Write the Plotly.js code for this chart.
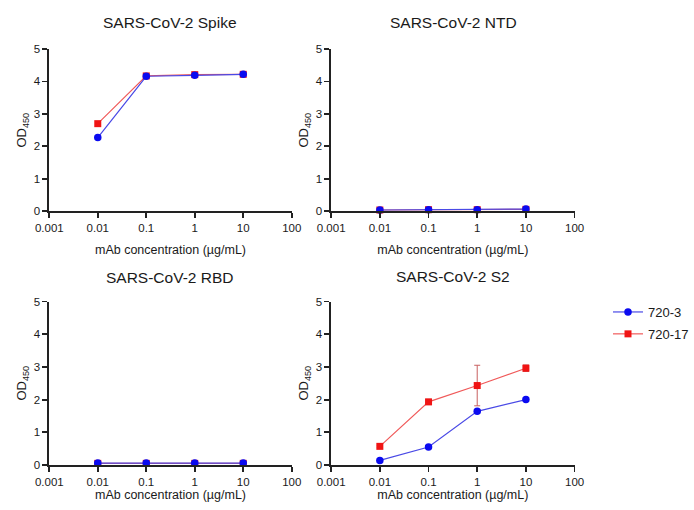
<!DOCTYPE html>
<html>
<head>
<meta charset="utf-8">
<script src="https://cdn.plot.ly/plotly-3.0.1.min.js"></script>
<style>html,body{margin:0;padding:0;background:#fff;}#chart{width:694px;height:510px;}</style>
</head>
<body>
<div id="chart"></div>
<script>
// Data
const concentrations = [0.01, 0.1, 1, 10];
const panelTitles = ["SARS-CoV-2 Spike", "SARS-CoV-2 NTD", "SARS-CoV-2 RBD", "SARS-CoV-2 S2"];
const seriesNames = ["720-3", "720-17"];
const xTickVals = [0.001, 0.01, 0.1, 1, 10, 100];
const xTickText = ["0.001", "0.01", "0.1", "1", "10", "100"];

const spike_720_3 = [2.27, 4.16, 4.19, 4.22];
const spike_720_17 = [2.70, 4.17, 4.21, 4.22];
const ntd_720_3 = [0.04, 0.05, 0.05, 0.07];
const ntd_720_17 = [0.04, 0.05, 0.05, 0.06];
const rbd_720_3 = [0.06, 0.06, 0.06, 0.06];
const rbd_720_17 = [0.05, 0.05, 0.05, 0.05];
const s2_720_3 = [0.14, 0.55, 1.64, 2.00];
const s2_720_17 = [0.57, 1.93, 2.43, 2.96];
const s2_720_17_err = [0.03, 0.08, 0.62, 0.10];
const s2_720_3_err = [0.02, 0.03, 0.05, 0.03];

const blue = '#0a0af0';
const red = '#f01414';
const blueLine = '#4a4ae6';
const redLine = '#f05a5a';

const panels = [
  {a: spike_720_3, b: spike_720_17, ea: null, eb: null},
  {a: ntd_720_3, b: ntd_720_17, ea: null, eb: null},
  {a: rbd_720_3, b: rbd_720_17, ea: null, eb: null},
  {a: s2_720_3, b: s2_720_17, ea: s2_720_3_err, eb: s2_720_17_err}
];

const traces = [];
panels.forEach((p, i) => {
  const xa = i === 0 ? 'x' : 'x' + (i + 1);
  const ya = i === 0 ? 'y' : 'y' + (i + 1);
  traces.push({
    x: concentrations, y: p.b, xaxis: xa, yaxis: ya, type: 'scatter', mode: 'lines+markers',
    name: seriesNames[1], legendgroup: 'b', showlegend: i === 0, legendrank: 2,
    line: {color: redLine, width: 1.2},
    marker: {symbol: 'square', size: 7, color: red},
    error_y: p.eb ? {type: 'data', array: p.eb, visible: true, color: '#c86060', thickness: 1, width: 3} : {visible: false},
    cliponaxis: false
  });
  traces.push({
    x: concentrations, y: p.a, xaxis: xa, yaxis: ya, type: 'scatter', mode: 'lines+markers',
    name: seriesNames[0], legendgroup: 'a', showlegend: i === 0, legendrank: 1,
    line: {color: blueLine, width: 1.2},
    marker: {symbol: 'circle', size: 7.5, color: blue},
    error_y: p.ea ? {type: 'data', array: p.ea, visible: true, color: '#6060d0', thickness: 1, width: 3} : {visible: false},
    cliponaxis: false
  });
});

const font = 'Liberation Sans, Arial, sans-serif';
const axisColor = '#222222';
function xAxis(domain, anchor, standoff) {
  return {
    type: 'log', range: [-3, 2], domain: domain, anchor: anchor,
    tickvals: xTickVals, ticktext: xTickText, ticks: 'outside', ticklen: 5, tickwidth: 1.8,
    tickcolor: axisColor, showline: true, linecolor: axisColor, linewidth: 1.8,
    showgrid: false, zeroline: false, tickfont: {family: font, size: 11.5, color: '#1a1a1a'},
    title: {text: 'mAb concentration (µg/mL)', font: {family: font, size: 12.5, color: '#1a1a1a'}, standoff: standoff}
  };
}
function yAxis(domain, anchor) {
  return {
    range: [0, 5], domain: domain, anchor: anchor, dtick: 1, tick0: 0,
    ticks: 'outside', ticklen: 5, tickwidth: 1.8, tickcolor: axisColor,
    showline: true, linecolor: axisColor, linewidth: 1.8, showgrid: false, zeroline: false,
    tickfont: {family: font, size: 11.5, color: '#1a1a1a'},
    title: {text: 'OD<sub>450</sub>', font: {family: font, size: 13, color: '#1a1a1a'}, standoff: 4}
  };
}
const W = 694, H = 510;
const xL = [50 / W, 296 / W], xR = [336 / W, 583 / W];
const yT = [1 - 211.3 / H, 1 - 49 / H], yB = [1 - 465 / H, 1 - 301.5 / H];

const titlePos = [
  {x: 172, y: 23}, {x: 460, y: 23}, {x: 172, y: 277}, {x: 460, y: 276}
];
const annotations = panelTitles.map((t, i) => ({
  text: t, xref: 'paper', yref: 'paper', x: titlePos[i].x / W, y: 1 - titlePos[i].y / H,
  xanchor: 'center', yanchor: 'middle', showarrow: false,
  font: {family: font, size: 15.5, color: '#1a1a1a'}
}));

const layout = {
  width: W, height: H, margin: {l: 0, r: 0, t: 0, b: 0},
  paper_bgcolor: '#fff', plot_bgcolor: '#fff', showlegend: true,
  xaxis: xAxis(xL, 'y', 12), yaxis: yAxis(yT, 'x'),
  xaxis2: xAxis(xR, 'y2', 12), yaxis2: yAxis(yT, 'x2'),
  xaxis3: xAxis(xL, 'y3', 2), yaxis3: yAxis(yB, 'x3'),
  xaxis4: xAxis(xR, 'y4', 2), yaxis4: yAxis(yB, 'x4'),
  legend: {x: 617 / W, y: 1 - 297 / H, xanchor: 'left', yanchor: 'top', bgcolor: 'rgba(0,0,0,0)',
    font: {family: font, size: 13, color: '#1a1a1a'}, itemwidth: 30, tracegroupgap: 2},
  annotations: annotations
};

Plotly.newPlot('chart', traces, layout, {staticPlot: true, displayModeBar: false});
</script>
</body>
</html>
